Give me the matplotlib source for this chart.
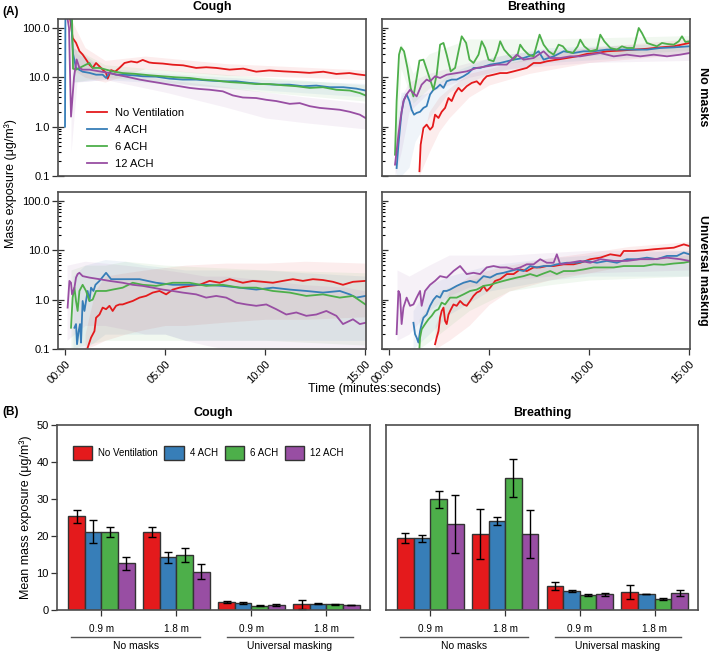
import numpy as np
import matplotlib
matplotlib.use('Agg')
import matplotlib.pyplot as plt
import matplotlib.transforms as mtransforms
from matplotlib.ticker import LogLocator, NullFormatter

plt.rcParams['font.family'] = ['Liberation Sans', 'DejaVu Sans']

conditions = ['No Ventilation', '4 ACH', '6 ACH', '12 ACH']
colors = ['#E41A1C', '#377EB8', '#4DAF4A', '#984EA3']

# ---- (A) time series, (minutes, ug/m3) ----
# cough, no masks
cn_nv = [(0.25, 160), (0.38, 63), (0.55, 50), (0.72, 34), (0.88, 29), (1.05, 23), (1.22, 18), (1.38, 15.5),
         (1.55, 19.5), (1.72, 16.7), (1.88, 14.3), (2.05, 12.3), (2.13, 9.4), (2.3, 14), (2.5, 13), (2.72, 15.5),
         (2.97, 19.5), (3.3, 21), (3.6, 20), (3.88, 22.5), (4.2, 20), (4.4, 19.5), (4.88, 19), (5.38, 18),
         (5.9, 17.5), (6.55, 15.5), (7.05, 16), (7.55, 15.5), (8.22, 14.3), (8.9, 15), (9.55, 13), (10.2, 13.8),
         (10.9, 13.2), (11.55, 12.8), (12.2, 12.3), (12.9, 13), (13.55, 11.7), (14.2, 12.2), (14.6, 11.5), (15.0, 11)]
cn_4 = [(0.0, 1.0), (0.02, 160), (0.3, 160), (0.4, 30), (0.55, 15.5), (0.88, 13), (1.22, 12.3), (1.55, 11.3),
        (1.88, 11.3), (2.05, 9.7), (2.22, 12.3), (2.55, 11.3), (2.88, 11.3), (3.38, 11), (3.88, 10.5), (4.55, 10.3),
        (5.22, 9.4), (5.88, 9.0), (6.55, 9.0), (7.2, 8.6), (7.88, 8.3), (8.55, 8.3), (9.22, 7.7), (9.9, 7.3),
        (10.55, 7.1), (11.2, 7.1), (11.88, 6.6), (12.55, 6.8), (13.22, 6.3), (13.9, 6.3), (14.55, 5.9), (15.0, 5.4)]
cn_6 = [(0.2, 160), (0.35, 160), (0.4, 15), (0.55, 14.3), (0.72, 15.5), (0.88, 16.7), (1.05, 18.1), (1.22, 19.5),
        (1.38, 15.5), (1.72, 15.5), (2.05, 14.3), (2.38, 13.2), (2.88, 12.2), (3.55, 11.7), (4.22, 11.0), (4.88, 10.5),
        (5.55, 10.0), (6.22, 9.7), (6.88, 9.0), (7.55, 8.6), (8.22, 8.0), (8.88, 7.7), (9.55, 7.3), (10.22, 7.3),
        (10.88, 6.9), (11.55, 6.6), (12.22, 6.1), (12.88, 6.3), (13.55, 5.6), (14.22, 5.4), (14.72, 4.8), (15.0, 4.3)]
cn_12 = [(0.08, 160), (0.12, 160), (0.2, 100), (0.3, 1.6), (0.45, 10), (0.58, 23), (0.72, 15.5), (0.88, 14.3),
         (1.22, 14.3), (1.72, 13.2), (2.22, 12.2), (2.72, 11.0), (3.22, 10.0), (3.72, 9.0), (4.22, 8.3), (4.72, 7.7),
         (5.22, 7.1), (5.72, 6.6), (6.22, 6.1), (6.72, 5.8), (7.22, 5.6), (7.88, 5.2), (8.38, 4.3), (8.88, 3.9),
         (9.55, 3.8), (10.05, 3.5), (10.55, 3.3), (11.22, 2.9), (11.72, 3.0), (12.22, 2.6), (12.72, 2.4), (13.22, 2.3),
         (13.72, 2.2), (14.22, 2.0), (14.72, 1.75), (15.0, 1.5)]

# breathing, no masks
bn_nv = [(1.52, 0.125), (1.58, 0.43), (1.72, 0.94), (1.88, 1.1), (2.05, 0.87), (2.18, 1.0), (2.3, 1.75), (2.47, 1.5),
         (2.63, 2.0), (2.8, 2.4), (2.97, 3.8), (3.13, 3.3), (3.3, 4.8), (3.47, 6.1), (3.63, 5.2), (3.88, 6.6),
         (4.13, 7.7), (4.38, 8.3), (4.55, 7.1), (4.72, 9.0), (4.88, 10.5), (5.22, 11.3), (5.55, 12.2), (5.88, 12.2),
         (6.22, 13.2), (6.55, 14.3), (6.88, 15.5), (7.22, 19.5), (7.55, 19.5), (7.88, 21.1), (8.38, 22.8), (8.88, 24.6),
         (9.38, 26.6), (9.88, 29.8), (10.38, 31.1), (10.88, 33.7), (11.55, 34.8), (12.22, 36.4), (12.88, 37.9),
         (13.55, 40.5), (14.22, 42.5), (15.0, 49.7)]
bn_4 = [(0.38, 0.145), (0.47, 0.43), (0.55, 0.94), (0.63, 2.0), (0.75, 3.5), (0.88, 4.5), (1.02, 3.3), (1.13, 2.2),
        (1.25, 1.75), (1.38, 1.9), (1.55, 2.0), (1.72, 2.4), (1.88, 2.6), (2.05, 4.5), (2.22, 5.6), (2.38, 6.1),
        (2.55, 7.1), (2.72, 6.1), (2.88, 8.3), (3.13, 9.0), (3.38, 9.0), (3.72, 10.5), (3.97, 12.2), (4.22, 15.5),
        (4.55, 15.5), (5.05, 18.1), (5.55, 19.5), (6.22, 22.8), (6.72, 24.6), (7.22, 28.8), (7.47, 33.7), (7.72, 22.8),
        (8.22, 26.6), (8.72, 33.7), (9.22, 31.1), (9.72, 33.7), (10.22, 33.7), (10.88, 36.4), (11.55, 36.4),
        (12.22, 36.4), (12.88, 36.4), (13.55, 39.3), (14.22, 40.5), (15.0, 42.5)]
bn_6 = [(0.3, 0.27), (0.38, 3.3), (0.5, 28.8), (0.6, 40.5), (0.75, 33.7), (0.92, 15.5), (1.08, 6.1), (1.22, 4.1),
        (1.38, 9.7), (1.52, 21.8), (1.72, 22.8), (1.97, 11.3), (2.22, 5.6), (2.38, 11.3), (2.55, 45.9), (2.72, 49.7),
        (2.88, 28.8), (3.08, 13.2), (3.3, 15.5), (3.47, 33.7), (3.63, 67.8), (3.85, 49.7), (4.02, 22.8), (4.22, 19.5),
        (4.47, 28.8), (4.63, 53.7), (4.8, 39.3), (4.97, 22.8), (5.22, 21.1), (5.42, 33.7), (5.55, 53.7), (5.75, 36.4),
        (5.97, 28.8), (6.22, 22.8), (6.42, 28.8), (6.55, 45.9), (6.72, 36.4), (6.97, 28.8), (7.22, 26.6), (7.38, 45.9),
        (7.52, 73.2), (7.72, 45.9), (7.97, 33.7), (8.22, 28.8), (8.47, 45.9), (8.68, 42.5), (8.88, 33.7), (9.18, 31.1),
        (9.42, 42.5), (9.55, 58), (9.75, 42.5), (10.05, 33.7), (10.38, 36.4), (10.55, 73.2), (10.75, 53.7),
        (11.05, 39.3), (11.38, 36.4), (11.63, 42.5), (11.88, 39.3), (12.22, 39.3), (12.47, 100), (12.63, 79),
        (12.88, 49.7), (13.13, 45.9), (13.38, 42.5), (13.63, 49.7), (13.88, 47.5), (14.22, 45.9), (14.47, 53.7),
        (14.63, 67.8), (14.8, 52), (15.0, 53.7)]
bn_12 = [(0.3, 0.17), (0.38, 0.32), (0.47, 0.69), (0.58, 1.5), (0.72, 3.3), (0.88, 4.5), (1.05, 5.6), (1.22, 4.8),
         (1.38, 4.1), (1.63, 7.1), (1.88, 9.0), (2.05, 8.3), (2.3, 10.5), (2.55, 9.7), (2.88, 11.3), (3.38, 12.2),
         (3.88, 13.2), (4.38, 15.5), (4.88, 16.7), (5.38, 18.1), (5.88, 18.1), (6.38, 28.8), (6.72, 22.8), (7.22, 24.6),
         (7.72, 33.7), (8.05, 24.6), (8.55, 24.6), (9.05, 26.6), (9.55, 26.6), (10.05, 28.8), (10.55, 31.1),
         (11.22, 26.6), (11.88, 28.8), (12.55, 26.6), (13.22, 28.8), (13.88, 26.6), (14.55, 28.8), (15.0, 31.1)]

# cough, universal masking
cu_nv = [(1.13, 0.106), (1.3, 0.17), (1.47, 0.23), (1.55, 0.43), (1.72, 0.5), (1.88, 0.69), (2.05, 0.64), (2.22, 0.75),
         (2.38, 0.59), (2.55, 0.75), (2.72, 0.8), (2.88, 0.8), (3.13, 0.87), (3.38, 0.94), (3.72, 1.1), (4.05, 1.19),
         (4.38, 1.39), (4.72, 1.5), (5.05, 1.28), (5.38, 1.6), (5.72, 1.75), (6.22, 1.9), (6.72, 2.0), (7.22, 2.4),
         (7.72, 2.2), (8.22, 2.6), (8.88, 2.2), (9.38, 2.4), (9.88, 2.3), (10.38, 2.2), (10.88, 2.4), (11.38, 2.6),
         (11.88, 2.4), (12.38, 2.6), (12.88, 2.5), (13.38, 2.3), (13.88, 2.0), (14.38, 2.3), (15.0, 2.4)]
cu_4 = [(0.47, 0.27), (0.55, 0.32), (0.6, 0.125), (0.68, 0.23), (0.75, 0.32), (0.8, 0.135), (0.88, 0.94), (0.97, 0.59),
        (1.13, 1.5), (1.22, 0.94), (1.3, 1.75), (1.42, 1.5), (1.52, 2.0), (1.72, 2.4), (2.05, 3.5), (2.3, 2.6),
        (2.88, 2.6), (3.72, 2.6), (4.55, 2.2), (5.38, 2.0), (6.22, 2.0), (7.05, 2.0), (7.88, 1.9), (8.72, 1.75),
        (9.55, 1.6), (10.38, 1.75), (11.22, 1.6), (12.05, 1.5), (12.88, 1.39), (13.72, 1.5), (14.22, 1.28),
        (14.55, 1.1), (15.0, 1.19)]
cu_6 = [(0.3, 0.27), (0.38, 1.1), (0.47, 1.75), (0.55, 0.94), (0.63, 0.59), (0.72, 1.5), (0.88, 2.0), (1.05, 1.5),
        (1.22, 0.94), (1.38, 1.0), (1.55, 1.5), (2.05, 1.5), (2.38, 1.6), (2.88, 1.75), (3.38, 2.2), (3.88, 2.0),
        (4.55, 1.9), (5.38, 2.2), (6.22, 2.2), (7.05, 1.9), (7.88, 2.0), (8.72, 1.75), (9.55, 1.75), (10.38, 1.5),
        (11.22, 1.39), (12.05, 1.19), (12.88, 1.28), (13.72, 1.1), (14.38, 1.19), (15.0, 0.8)]
cu_12 = [(0.13, 0.69), (0.22, 2.4), (0.3, 2.2), (0.35, 1.28), (0.47, 1.75), (0.55, 2.8), (0.63, 3.3), (0.72, 3.5),
         (0.88, 3.0), (1.22, 2.8), (1.72, 2.6), (2.22, 2.4), (2.88, 2.2), (3.38, 2.0), (3.88, 1.9), (4.38, 1.75),
         (4.88, 1.6), (5.38, 1.5), (5.88, 1.39), (6.55, 1.28), (7.05, 1.1), (7.55, 1.19), (8.05, 1.1), (8.55, 0.87),
         (9.05, 0.8), (9.55, 0.75), (10.05, 0.8), (10.55, 0.64), (11.05, 0.5), (11.55, 0.55), (12.05, 0.47),
         (12.55, 0.5), (13.05, 0.59), (13.55, 0.47), (13.88, 0.32), (14.38, 0.40), (14.72, 0.32), (15.0, 0.34)]

# breathing, universal masking
bu_nv = [(2.3, 0.125), (2.38, 0.17), (2.47, 0.23), (2.55, 0.43), (2.63, 0.59), (2.72, 0.69), (2.8, 0.37), (2.88, 0.32),
         (2.97, 0.5), (3.05, 0.59), (3.22, 0.8), (3.38, 0.75), (3.55, 0.94), (3.72, 0.8), (3.88, 0.75), (4.05, 0.94),
         (4.22, 1.19), (4.38, 1.39), (4.55, 1.5), (4.72, 1.9), (4.88, 1.5), (5.05, 1.75), (5.3, 2.4), (5.55, 2.6),
         (5.88, 3.3), (6.22, 3.3), (6.55, 4.1), (6.88, 3.8), (7.22, 4.5), (7.55, 4.5), (7.88, 4.8), (8.22, 4.8),
         (8.72, 5.2), (9.22, 5.2), (9.55, 5.6), (10.05, 6.6), (10.55, 7.1), (11.05, 8.3), (11.55, 7.7), (11.72, 9.7),
         (12.22, 9.7), (12.72, 10.0), (13.22, 10.5), (13.72, 10.9), (14.22, 11.3), (14.72, 13.2), (15.0, 12.2)]
bu_4 = [(1.22, 0.34), (1.3, 0.2), (1.38, 0.17), (1.47, 0.135), (1.55, 0.23), (1.63, 0.32), (1.72, 0.43), (1.88, 0.5),
        (2.05, 0.75), (2.22, 1.0), (2.38, 1.19), (2.55, 1.1), (2.72, 1.5), (2.88, 1.5), (3.05, 1.6), (3.38, 1.9),
        (3.72, 2.2), (4.05, 2.4), (4.38, 2.2), (4.72, 3.0), (5.05, 2.8), (5.38, 3.3), (5.72, 3.5), (6.05, 3.8),
        (6.38, 4.1), (6.72, 3.8), (7.05, 4.8), (7.38, 4.5), (7.72, 4.8), (8.05, 4.8), (8.38, 5.2), (8.88, 5.6),
        (9.38, 5.6), (9.88, 6.1), (10.38, 5.6), (10.88, 6.1), (11.38, 5.6), (11.88, 6.6), (12.38, 6.6), (12.88, 7.1),
        (13.38, 6.6), (13.88, 7.7), (14.38, 7.7), (14.72, 9.0), (15.0, 8.3)]
bu_6 = [(1.52, 0.106), (1.55, 0.17), (1.63, 0.25), (1.8, 0.32), (1.97, 0.40), (2.13, 0.47), (2.3, 0.59), (2.47, 0.64),
        (2.63, 0.87), (2.8, 0.8), (3.05, 1.1), (3.38, 1.1), (3.72, 1.28), (4.05, 1.5), (4.38, 1.6), (4.72, 1.9),
        (5.05, 2.0), (5.38, 2.2), (5.72, 2.4), (6.05, 2.6), (6.38, 2.8), (6.72, 3.0), (7.05, 3.3), (7.38, 3.0),
        (7.72, 3.4), (8.05, 3.8), (8.38, 3.3), (8.72, 3.8), (9.22, 3.8), (9.72, 4.1), (10.22, 4.5), (10.72, 4.5),
        (11.22, 4.5), (11.72, 4.8), (12.22, 4.8), (12.72, 4.8), (13.22, 5.2), (13.72, 5.1), (14.22, 5.4),
        (14.72, 5.6), (15.0, 5.9)]
bu_12 = [(0.38, 0.2), (0.47, 1.5), (0.55, 1.28), (0.63, 0.32), (0.72, 0.69), (0.88, 1.1), (1.05, 0.75), (1.22, 0.8),
         (1.38, 1.1), (1.55, 1.5), (1.63, 0.75), (1.8, 1.5), (2.05, 2.0), (2.3, 2.4), (2.55, 3.0), (2.88, 2.8),
         (3.22, 3.8), (3.55, 4.8), (3.88, 3.3), (4.22, 3.5), (4.55, 3.3), (4.88, 4.5), (5.22, 4.8), (5.55, 4.5),
         (5.88, 4.5), (6.22, 4.1), (6.55, 4.5), (6.88, 5.2), (7.22, 5.2), (7.55, 6.6), (7.88, 5.6), (8.22, 5.6),
         (8.38, 8.3), (8.55, 5.2), (9.05, 5.6), (9.55, 6.1), (10.05, 5.6), (10.55, 6.6), (11.22, 6.1), (11.88, 6.1),
         (12.55, 6.6), (13.22, 6.6), (13.88, 7.1), (14.55, 6.6), (15.0, 6.1)]

# spread of the faint raw traces behind each line: (minutes, low, high)
cn_nv_raw = [(0.3, 15, 150), (1, 10, 40), (2, 8, 22), (4, 15, 27), (8, 11, 19), (12, 10, 16), (15, 9, 14)]
cn_4_raw = [(0.4, 8, 40), (2, 9, 15), (5, 7.5, 12), (10, 5.5, 9), (15, 4, 7.5)]
cn_6_raw = [(0.4, 8, 40), (2, 10, 18), (5, 8, 14), (10, 5, 10), (15, 3.3, 7)]
cn_12_raw = [(0.3, 0.3, 100), (0.6, 8, 30), (2, 9, 15), (5, 5, 9), (8, 2.5, 6.5), (10, 1.5, 5), (12, 1.2, 4),
             (15, 0.9, 3)]
bn_nv_raw = [(1.5, 0.1, 0.3), (2, 0.3, 2), (2.5, 0.8, 4), (3, 1.5, 6), (4, 4, 12), (5, 7, 15), (7, 12, 25),
             (10, 20, 40), (15, 30, 60)]
bn_4_raw = [(0.35, 0.1, 1), (0.6, 0.1, 5), (1.0, 0.15, 5), (1.3, 0.5, 4), (2, 1.5, 5), (3, 5, 12), (5, 12, 25),
            (8, 20, 40), (15, 30, 50)]
bn_6_raw = [(0.3, 0.15, 2), (0.6, 15, 50), (1.2, 3, 12), (2, 6, 30), (4, 15, 60), (8, 25, 60), (15, 35, 70)]
bn_12_raw = [(0.3, 0.1, 0.5), (0.6, 0.3, 4), (1, 2, 8), (2, 5, 12), (4, 10, 20), (6, 15, 30), (10, 20, 40),
             (15, 22, 40)]
cu_nv_raw = [(1.0, 0.1, 0.2), (1.5, 0.12, 1.5), (2, 0.15, 3), (3, 0.2, 3.5), (4, 0.25, 4), (5, 0.3, 4.5),
             (6, 0.3, 5), (8, 0.35, 5.5), (10, 0.4, 5.5), (12, 0.4, 6), (15, 0.45, 5.5)]
cu_4_raw = [(0.4, 0.1, 3), (1, 0.1, 5), (2, 0.2, 6.5), (3, 0.2, 6), (4, 0.2, 5), (5, 0.2, 4.5), (6, 0.15, 4),
            (10, 0.15, 4), (12, 0.15, 3.5), (15, 0.15, 3)]
cu_6_raw = [(0.3, 0.1, 4), (1, 0.12, 5), (2, 0.15, 5), (3, 0.15, 6), (4, 0.15, 5.5), (5, 0.15, 5), (10, 0.15, 4),
            (15, 0.12, 3.5)]
cu_12_raw = [(0.1, 0.15, 5), (1, 0.3, 6), (2, 0.3, 5.5), (3, 0.25, 5), (4, 0.2, 4.5), (5, 0.2, 4), (6, 0.15, 3.5),
             (7, 0.12, 3), (8, 0.1, 3), (10, 0.1, 2.5), (12, 0.1, 2), (14, 0.1, 1.8), (15, 0.1, 1.5)]
bu_nv_raw = [(2.3, 0.1, 0.3), (3, 0.15, 1.5), (4, 0.3, 3), (5, 0.8, 4), (6, 1.5, 5), (8, 2.5, 7), (10, 3.5, 9),
             (12, 5, 12), (15, 6, 15)]
bu_4_raw = [(1.2, 0.1, 0.6), (2, 0.2, 2), (3, 0.5, 3), (5, 1.5, 5), (8, 2.5, 7), (10, 3, 8), (12, 3, 9),
            (15, 3, 10)]
bu_6_raw = [(1.5, 0.1, 0.4), (2.5, 0.2, 1.5), (4, 0.6, 2.5), (6, 1.5, 4), (8, 2, 5.5), (10, 2.5, 6), (15, 3, 8)]
bu_12_raw = [(0.4, 0.15, 4), (1, 0.2, 3), (2, 0.6, 5), (3, 1.2, 8), (4, 1.8, 8), (6, 2.5, 8), (8, 3, 9),
             (10, 3.5, 10), (15, 4, 10)]

time_ticks = [0, 5, 10, 15]
time_labels = ['00:00', '05:00', '10:00', '15:00']

# ---- (B) bar chart ----
distances = ['0.9 m', '1.8 m', '0.9 m', '1.8 m']
groups = ['No masks', 'Universal masking']
cough_nv = [25.3, 21.2, 2.2, 1.6]
cough_nv_err = [1.7, 1.35, 0.2, 1.2]
cough_4 = [21.2, 14.2, 2.0, 1.7]
cough_4_err = [3.2, 1.45, 0.25, 0.1]
cough_6 = [21.0, 14.9, 1.2, 1.6]
cough_6_err = [1.4, 1.8, 0.2, 0.15]
cough_12 = [12.6, 10.4, 1.3, 1.3]
cough_12_err = [1.8, 2.1, 0.3, 0.05]
breath_nv = [19.4, 20.5, 6.5, 4.9]
breath_nv_err = [1.3, 6.7, 1.2, 1.8]
breath_4 = [19.4, 24.1, 5.2, 4.3]
breath_4_err = [1.0, 1.0, 0.3, 0.1]
breath_6 = [29.9, 35.6, 4.1, 3.0]
breath_6_err = [2.2, 5.1, 0.2, 0.2]
breath_12 = [23.2, 20.5, 4.2, 4.6]
breath_12_err = [7.9, 6.4, 0.4, 0.9]

W, H = 709, 652
fig = plt.figure(figsize=(W / 100, H / 100), dpi=100)
SPINE = '#4d4d4d'


def px_axes(x0, y0, x1, y1):
    return fig.add_axes([x0 / W, 1 - y1 / H, (x1 - x0) / W, (y1 - y0) / H])


def style_box(ax):
    for s in ax.spines.values():
        s.set_color(SPINE)
        s.set_linewidth(1.2)
    ax.tick_params(colors='#333333', labelcolor='black')


ax_cn = px_axes(58, 19, 366, 176)
ax_bn = px_axes(382, 19, 690, 176)
ax_cu = px_axes(58, 192, 366, 349)
ax_bu = px_axes(382, 192, 690, 349)

panels = [(ax_cn, [cn_nv, cn_4, cn_6, cn_12], [cn_nv_raw, cn_4_raw, cn_6_raw, cn_12_raw], True, False),
          (ax_bn, [bn_nv, bn_4, bn_6, bn_12], [bn_nv_raw, bn_4_raw, bn_6_raw, bn_12_raw], False, False),
          (ax_cu, [cu_nv, cu_4, cu_6, cu_12], [cu_nv_raw, cu_4_raw, cu_6_raw, cu_12_raw], True, True),
          (ax_bu, [bu_nv, bu_4, bu_6, bu_12], [bu_nv_raw, bu_4_raw, bu_6_raw, bu_12_raw], False, True)]

for ax, series, raws, left, bottom in panels:
    # faint raw traces
    for raw, c in zip(raws, colors):
        rt, lo, hi = zip(*raw)
        ax.fill_between(rt, lo, hi, color=c, alpha=0.08, lw=0)
    for pts, c, lab in zip(series, colors, conditions):
        t, v = zip(*pts)
        ax.plot(t, v, color=c, lw=1.3, label=lab)
    ax.set_yscale('log')
    ax.set_ylim(0.1, 152)
    ax.set_xlim(-0.35, 15.03)
    style_box(ax)
    ax.yaxis.set_minor_locator(LogLocator(base=10, subs=np.arange(2, 10)))
    ax.yaxis.set_minor_formatter(NullFormatter())
    ax.set_yticks([0.1, 1, 10, 100])
    ax.tick_params(axis='y', which='minor', direction='in', length=2.5, width=0.8)
    if left:
        ax.set_yticklabels(['0.1', '1.0', '10.0', '100.0'], fontsize=8)
        ax.tick_params(axis='y', which='major', direction='inout', length=8, width=0.9, pad=2)
    else:
        ax.tick_params(axis='y', which='major', direction='in', length=4, width=0.9, labelleft=False)
    if bottom:
        ax.set_xticks(time_ticks)
        ax.set_xticklabels(time_labels, fontsize=8, rotation=45, ha='right', va='top',
                           rotation_mode='anchor')
        ax.tick_params(axis='x', direction='out', length=4, width=0.9, pad=3)
    else:
        ax.tick_params(axis='x', bottom=False, labelbottom=False)

ax_cn.legend(loc='upper left', bbox_to_anchor=(0.095, 0.435), frameon=False, fontsize=8,
             handlelength=1.8, handletextpad=0.7, labelspacing=0.65, borderpad=0, borderaxespad=0)

fig.text(11 / W, 1 - 12 / H, '(A)', fontsize=8.5, fontweight='bold', ha='center', va='center')
fig.text(212 / W, 1 - 7 / H, 'Cough', fontsize=9, fontweight='bold', ha='center', va='center')
fig.text(536 / W, 1 - 7 / H, 'Breathing', fontsize=9, fontweight='bold', ha='center', va='center')
fig.text(703 / W, 1 - 97 / H, 'No masks', fontsize=9, fontweight='bold', rotation=-90, ha='center', va='center')
fig.text(703 / W, 1 - 270 / H, 'Universal masking', fontsize=9, fontweight='bold', rotation=-90,
         ha='center', va='center')
fig.text(11 / W, 1 - 184 / H, 'Mass exposure (\u03bcg/m\u00b3)', fontsize=9, rotation=90, ha='center', va='center')
fig.text(374 / W, 1 - 389 / H, 'Time (minutes:seconds)', fontsize=9, ha='center', va='center')

# ---- bars ----
bar_c = px_axes(57, 425, 370, 610)
bar_b = px_axes(386, 425, 698, 610)
bw = 0.222
offsets = [-1.5 * bw, -0.5 * bw, 0.5 * bw, 1.5 * bw]
x = np.arange(len(distances))

bar_sets = [(bar_c, [cough_nv, cough_4, cough_6, cough_12],
             [cough_nv_err, cough_4_err, cough_6_err, cough_12_err], 'Cough', 213.5),
            (bar_b, [breath_nv, breath_4, breath_6, breath_12],
             [breath_nv_err, breath_4_err, breath_6_err, breath_12_err], 'Breathing', 542)]

for ax, means, errs, title, cx in bar_sets:
    for i in range(4):
        ax.bar(x + offsets[i], means[i], width=bw, color=colors[i], edgecolor='#333333', linewidth=1.0,
               yerr=errs[i], capsize=3, error_kw=dict(elinewidth=1, capthick=1, ecolor='black'),
               label=conditions[i], zorder=2)
    ax.set_xlim(-0.593, 3.58)
    ax.set_ylim(0, 50)
    style_box(ax)
    ax.set_xticks(x)
    ax.set_xticklabels(distances, fontsize=7.2)
    ax.tick_params(axis='x', direction='out', length=4, width=0.9, pad=6)
    ax.set_yticks([0, 10, 20, 30, 40, 50])
    ax.tick_params(axis='y', direction='out', length=4, width=0.9, labelsize=8, pad=2)
    if ax is bar_b:
        ax.tick_params(axis='y', left=False, labelleft=False)
    trans = mtransforms.blended_transform_factory(ax.transData, ax.transAxes)
    for (a, b), g in zip([(-0.4, 1.31), (1.67, 3.35)], groups):
        ax.plot([a, b], [-0.146, -0.146], transform=trans, color='#555555', lw=1.0, clip_on=False)
        ax.text((a + b) / 2, -0.197, g, transform=trans, ha='center', va='center', fontsize=7.5)
    fig.text(cx / W, 1 - 413 / H, title, fontsize=9, fontweight='bold', ha='center', va='center')

bar_c.legend(loc='center left', bbox_to_anchor=(0.05, 0.849), ncol=4, frameon=False, fontsize=7,
             handlelength=2.0, handleheight=1.85, handletextpad=0.6, columnspacing=0.7,
             borderpad=0, borderaxespad=0)

fig.text(11 / W, 1 - 412 / H, '(B)', fontsize=8.5, fontweight='bold', ha='center', va='center')
fig.text(26 / W, 1 - 517 / H, 'Mean mass exposure (\u03bcg/m\u00b3)', fontsize=9, rotation=90,
         ha='center', va='center')

fig.savefig('out.png', dpi=100)
